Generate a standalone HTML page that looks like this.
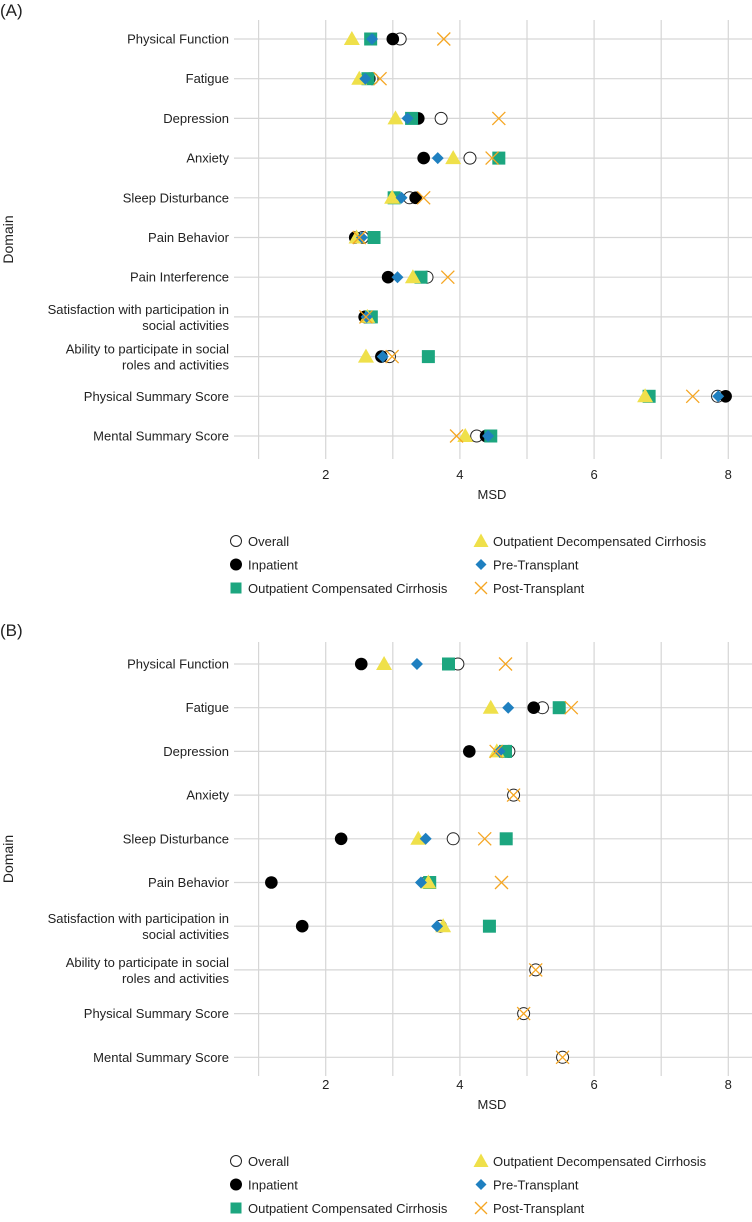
<!DOCTYPE html>
<html><head><meta charset="utf-8"><style>
body{margin:0;background:#fff;width:752px;height:1217px;overflow:hidden;font-family:"Liberation Sans",Arial,sans-serif;}
svg text{font-family:"Liberation Sans",Arial,sans-serif;fill:#222;}
</style></head><body>
<svg id="chart" width="752" height="1217" xmlns="http://www.w3.org/2000/svg"></svg>
<script>
const domainsA = ["Physical Function","Fatigue","Depression","Anxiety","Sleep Disturbance","Pain Behavior","Pain Interference","Satisfaction with participation in|social activities","Ability to participate in social|roles and activities","Physical Summary Score","Mental Summary Score"];
const overallA  = [3.11,2.69,3.72,4.15,3.25,2.55,3.51,2.60,2.95,7.84,4.25];
const inpatA    = [3.00,2.65,3.38,3.46,3.34,2.44,2.93,2.58,2.83,7.96,4.39];
const compA     = [2.67,2.63,3.28,4.58,3.02,2.72,3.42,2.68,3.53,6.82,4.46];
const decompA   = [2.39,2.50,3.04,3.90,2.99,2.46,3.30,2.62,2.60,6.76,4.08];
const preA      = [2.69,2.59,3.22,3.67,3.13,2.54,3.07,2.61,2.85,7.85,4.42];
const postA     = [3.76,2.81,4.58,4.48,3.46,2.50,3.82,2.60,2.99,7.47,3.95];

const domainsB = ["Physical Function","Fatigue","Depression","Anxiety","Sleep Disturbance","Pain Behavior","Satisfaction with participation in|social activities","Ability to participate in social|roles and activities","Physical Summary Score","Mental Summary Score"];
const overallB  = [3.97,5.23,4.73,4.80,3.90,3.50,3.71,5.13,4.95,5.53];
const inpatB    = [2.53,5.10,4.14,null,2.23,1.19,1.65,null,null,null];
const compB     = [3.83,5.48,4.68,null,4.69,3.55,4.44,null,null,null];
const decompB   = [2.87,4.46,4.55,null,3.38,3.53,3.75,null,null,null];
const preB      = [3.36,4.72,4.59,null,3.49,3.42,3.66,null,null,null];
const postB     = [4.68,5.66,4.54,4.80,4.37,4.62,null,5.13,4.95,5.53];

const xTicks = [2,4,6,8];
const xGrid = [1,2,3,4,5,6,7,8];

const svg = document.getElementById('chart');
const NS = "http://www.w3.org/2000/svg";
function mk(tag, attrs, parent){ const e=document.createElementNS(NS,tag); for(const k in attrs) e.setAttribute(k,attrs[k]); (parent||svg).appendChild(e); return e; }
const xs = v => 325.7 + (v-2)*67.1;
const COL = {yellow:"#efe04a", blue:"#1f80c0", green:"#1ca67f", orange:"#f5a623"};

function marker(type, cx, cy, g){
  let e;
  if(type==="overall") e=mk('circle',{cx,cy,r:6,fill:"#fff",stroke:"#222","stroke-width":1},g);
  else if(type==="inpat") e=mk('circle',{cx,cy,r:6.3,fill:"#000"},g);
  else if(type==="comp") e=mk('rect',{x:cx-6.5,y:cy-6.5,width:13,height:13,fill:COL.green},g);
  else if(type==="decomp") e=mk('polygon',{points:`${cx},${cy-8} ${cx-8},${cy+6} ${cx+8},${cy+6}`,fill:COL.yellow},g);
  else if(type==="pre") e=mk('polygon',{points:`${cx},${cy-6} ${cx+6},${cy} ${cx},${cy+6} ${cx-6},${cy}`,fill:COL.blue},g);
  else { e=mk('path',{d:`M${cx-6.5},${cy-6.5}L${cx+6.5},${cy+6.5}M${cx+6.5},${cy-6.5}L${cx-6.5},${cy+6.5}`,stroke:COL.orange,"stroke-width":1.3,fill:"none"},g); }
  return e;
}

function panel(opts){
  const {label, top, bottom, rowY0, rowStep, domains, series, tickY, msdY, legY} = opts;
  const g = mk('g',{});
  
  
  const t = mk('text',{x:0,y:opts.titleY,"font-size":17},g); t.textContent="("+label+")";
   
  xGrid.forEach(v=>{ const l=mk('line',{x1:xs(v),x2:xs(v),y1:top,y2:bottom,stroke:"#d6d6d6","stroke-width":1.2},g);
      });
  domains.forEach((d,i)=>{
    const y=rowY0+i*rowStep;
    const l=mk('line',{x1:234,x2:752,y1:y,y2:y,stroke:"#d6d6d6","stroke-width":1.2},g);
     
    const parts=d.split('|');
    const tx=mk('text',{x:229,y:parts.length>1?y-3:y+4.5,"font-size":13,"text-anchor":"end"},g);
     
    parts.forEach((p,j)=>{ const s=mk('tspan',{x:229,dy:j?16:0},tx); s.textContent=p; });
  });
  xTicks.forEach(v=>{ const tx=mk('text',{x:xs(v),y:tickY,"font-size":13,"text-anchor":"middle"},g); tx.textContent=v;
      });
  const xt=mk('text',{x:492,y:msdY,"font-size":13,"text-anchor":"middle"},g); xt.textContent="MSD";
   
  const yt=mk('text',{x:0,y:0,"font-size":14,"text-anchor":"middle",transform:`translate(13,${(top+bottom)/2}) rotate(-90)`},g); yt.textContent="Domain";
   
  series.forEach(([type,arr])=>{
    arr.forEach((v,i)=>{ if(v===null) return;
      const m=marker(type, xs(v), rowY0+i*rowStep, g);
      
      
    });
  });
  const items=[["overall","Overall",236,0],["inpat","Inpatient",236,1],["comp","Outpatient Compensated Cirrhosis",236,2],
               ["decomp","Outpatient Decompensated Cirrhosis",481,0],["pre","Pre-Transplant",481,1],["post","Post-Transplant",481,2]];
  items.forEach(([type,txt,x,r])=>{
    const y=legY+r*23.5;
    const lg=mk('g',{},g);
    
    
    if(type==="overall") mk('circle',{cx:x,cy:y,r:5.5,fill:"#fff",stroke:"#222","stroke-width":1},lg);
    else if(type==="inpat") mk('circle',{cx:x,cy:y,r:6,fill:"#000"},lg);
    else if(type==="comp") mk('rect',{x:x-5.5,y:y-5.5,width:11,height:11,fill:COL.green},lg);
    else if(type==="decomp") mk('polygon',{points:`${x},${y-7.5} ${x-7.5},${y+6} ${x+7.5},${y+6}`,fill:COL.yellow},lg);
    else if(type==="pre") mk('polygon',{points:`${x},${y-5.5} ${x+5.5},${y} ${x},${y+5.5} ${x-5.5},${y}`,fill:COL.blue},lg);
    else mk('path',{d:`M${x-6},${y-6}L${x+6},${y+6}M${x+6},${y-6}L${x-6},${y+6}`,stroke:COL.orange,"stroke-width":1.3},lg);
    const tx=mk('text',{x:x+12,y:y+5,"font-size":13},lg); tx.textContent=txt;
  });
}

panel({label:"A",titleY:16,top:20,bottom:459,rowY0:39,rowStep:39.7,domains:domainsA,
  series:[["overall",overallA],["inpat",inpatA],["comp",compA],["decomp",decompA],["pre",preA],["post",postA]],
  tickY:479,msdY:499,legY:541});
panel({label:"B",titleY:636,top:642,bottom:1076,rowY0:664,rowStep:43.7,domains:domainsB,
  series:[["overall",overallB],["inpat",inpatB],["comp",compB],["decomp",decompB],["pre",preB],["post",postB]],
  tickY:1089,msdY:1109,legY:1161});
</script>
</body></html>
